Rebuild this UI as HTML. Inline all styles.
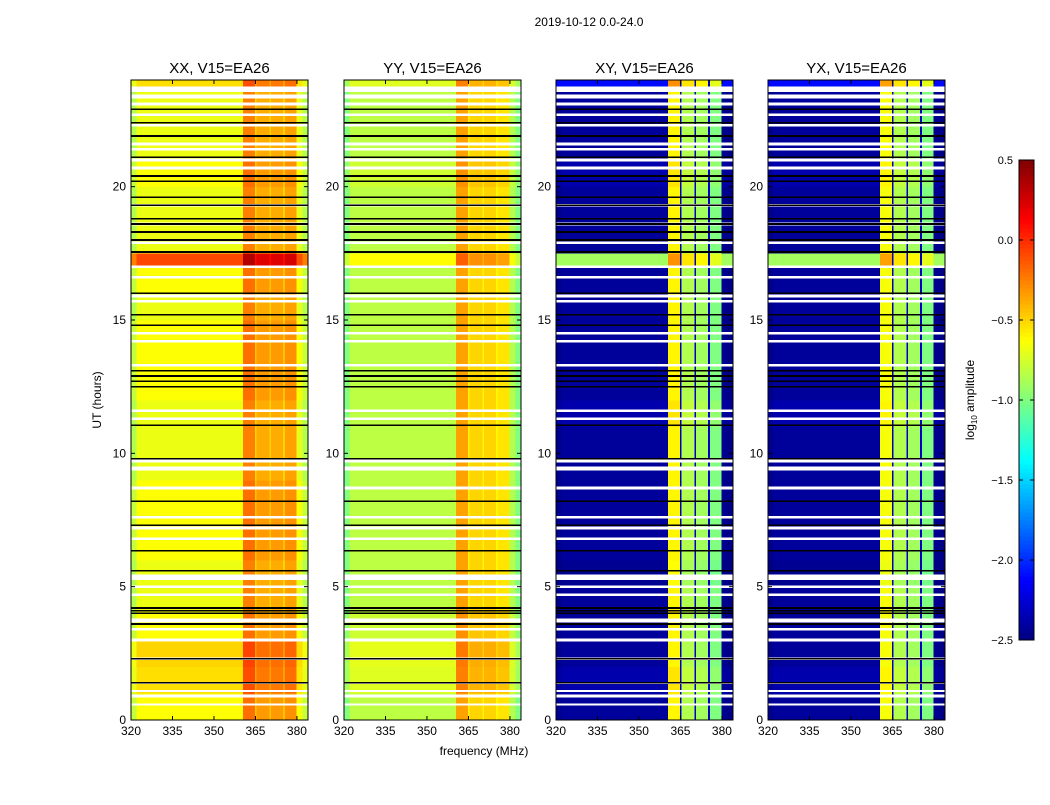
<!DOCTYPE html>
<html><head><meta charset="utf-8"><style>
body{margin:0;background:#fff;font-family:"Liberation Sans",sans-serif;}
svg text{font-family:"Liberation Sans",sans-serif;}
</style></head><body>
<svg id="fig" width="1050" height="800" viewBox="0 0 1050 800">
<text x="589" y="26" font-size="12" text-anchor="middle">2019-10-12 0.0-24.0</text>
<text transform="translate(101,400) rotate(-90)" font-size="12" text-anchor="middle">UT (hours)</text>
<text x="484" y="755" font-size="12" text-anchor="middle">frequency (MHz)</text>
<g id="panels"></g>
<g id="cbar"></g>
</svg>
<script>
// ---- data ----
const panelNames = ["XX, V15=EA26","YY, V15=EA26","XY, V15=EA26","YX, V15=EA26"];
const xTicks = [320,335,350,365,380];
const yTicks = [0,5,10,15,20];
const cbarTicks = [0.5,0.0,-0.5,-1.0,-1.5,-2.0,-2.5];
// frequency bands [start MHz, end MHz]
const bandStarts = [320,322,360.5,364.8,365.3,370,370.7,375,375.7,379.8,382];
const bandEnds   = [322,360.5,364.8,365.3,370,370.7,375,375.7,379.8,382,384];
// log amplitude per band
const bandXX = [-0.85,-0.68,-0.25,-0.5,-0.38,-0.5,-0.38,-0.5,-0.35,-0.7,-0.85];
const bandYY = [-1.0,-0.82,-0.35,-0.6,-0.5,-0.6,-0.5,-0.6,-0.55,-0.85,-1.0];
const bandXY = [-2.45,-2.42,-0.6,-2.3,-0.85,-2.3,-0.9,-2.3,-1.0,-2.45,-2.48];
const bandYX = [-2.45,-2.42,-0.65,-2.3,-0.85,-2.3,-0.9,-2.3,-1.0,-2.45,-2.48];
// hourly row offsets (0..23 h)
const rowXX = [0.05,0.15,0.18,0.05,0,0,0.05,0.05,0.05,0,0,0,0.05,0.05,0.05,0,0.05,0,0,0,0.05,0,0,0];
const rowYY = [0,0.1,0.12,0.05,0,0,0,0,0,0,0,0,0,0,0,0,0,0,0,0,0.05,0,0,0];
const rowXY = [0,0.05,0,0,0,-0.03,0,0,0,0,0,0.05,0,0,0,0,0,0,0,0,0.05,0,0,0];
const rowYX = [0,0.05,0,0,0,-0.03,0,0,0,0,0,0.05,0,0,0,0,0,0,0,0,0.05,0,0,0];
// bright row near 17.3 h and top row
const hotStart = [17.1, 23.75];
const hotEnd   = [17.5, 24.0];
const hotXX = [0.2, -0.25];
const hotYY = [-0.2, -0.3];
const hotXY = [-0.9, -2.1];
const hotYX = [-0.9, -2.1];
// flagged (white) gaps in hours
const gapStart = [0.55,0.85,1.05,1.35,2.25,2.95,3.35,3.65,4.65,4.95,5.25,6.75,7.15,7.55,8.65,9.35,9.65,11.25,11.55,13.25,14.15,14.45,15.65,15.85,16.55,16.95,17.85,18.55,19.25,20.65,20.95,21.35,21.55,22.25,22.65,23.05,23.3,23.55];
const gapEnd   = [0.62,0.95,1.12,1.42,2.35,3.05,3.45,3.8,4.75,5.05,5.45,6.85,7.25,7.65,8.75,9.5,9.8,11.35,11.65,13.35,14.25,14.55,15.75,15.95,16.65,17.05,17.95,18.65,19.35,20.75,21.05,21.45,21.65,22.35,22.75,23.15,23.45,23.75];
// black lines (hours)
const blackLines = [1.4,2.3,3.6,4.0,4.1,4.2,5.6,6.35,7.3,8.2,9.8,11.05,12.5,12.7,12.9,13.1,14.8,15.2,16.0,17.55,18.0,18.3,18.6,18.8,19.3,19.6,20.2,20.4,21.1,21.9,22.4,22.9];

const panelX = [131,344,556,768];
const panelW = 177, panelTop = 80, panelBot = 720;
const fMin = 320, fMax = 384, hMin = 0, hMax = 24;
const bandSets = [bandXX,bandYY,bandXY,bandYX];
const rowSets = [rowXX,rowYY,rowXY,rowYX];
const hotSets = [hotXX,hotYY,hotXY,hotYX];

function jet(v){ // v in [-2.5,0.5]
  let t=(v+2.5)/3; t=Math.max(0,Math.min(1,t));
  const f=x=>Math.max(0,Math.min(1,x));
  const r=f(1.5-Math.abs(4*t-3)), g=f(1.5-Math.abs(4*t-2)), b=f(1.5-Math.abs(4*t-1));
  return `rgb(${Math.round(r*255)},${Math.round(g*255)},${Math.round(b*255)})`;
}
const NS="http://www.w3.org/2000/svg";
function mk(tag,attrs,parent){const e=document.createElementNS(NS,tag);for(const k in attrs)e.setAttribute(k,attrs[k]);parent.appendChild(e);return e;}

const root=document.getElementById('panels');
const STEP=0.25;
panelX.forEach((px,p)=>{
  const xs=f=>px+(f-fMin)/(fMax-fMin)*panelW;
  const ys=h=>panelBot-(h-hMin)/(hMax-hMin)*(panelBot-panelTop);
  const g=mk('g',{},root);
  
  
  const hm=mk('g',{'shape-rendering':'crispEdges'},g);
  
  
  for(let h=0;h<24;h+=STEP){
    let off=rowSets[p][Math.floor(h)];
    let hot=null;
    hotStart.forEach((s,i)=>{ if(h+STEP>s && h<hotEnd[i]) hot=hotSets[p][i]; });
    bandStarts.forEach((s,b)=>{
      let v=bandSets[p][b]+off;
      if(hot!==null){
        if(p<2) v=bandSets[p][b]+hot+0.4;
        else v=(b<=1||b>=9)?hot:(bandSets[p][b]<-2?bandSets[p][b]:bandSets[p][b]+0.3);
      }
      const c=mk('rect',{x:xs(s),y:ys(h+STEP),width:xs(bandEnds[b])-xs(s)+0.3,height:ys(h)-ys(h+STEP)+0.3,fill:jet(v)},hm);
      
      
    });
  }
  gapStart.forEach((s,i)=>{
    const r=mk('rect',{x:px,y:ys(gapEnd[i]),width:panelW,height:ys(s)-ys(gapEnd[i]),fill:'#fff'},hm);
    
    
  });
  blackLines.forEach(h=>{
    const l=mk('rect',{x:px,y:ys(h)-0.8,width:panelW,height:1.6,fill:'#000'},hm);
    
    
  });
  const fr=mk('rect',{x:px,y:panelTop,width:panelW,height:panelBot-panelTop,fill:'none',stroke:'#000','stroke-width':1},g);
  
  
  const t=mk('text',{x:px+panelW/2,y:73,'font-size':15,'text-anchor':'middle'},g);
  t.textContent=panelNames[p];
  
  
  xTicks.forEach(f=>{
    const x=xs(f);
    mk('line',{x1:x,x2:x,y1:panelBot,y2:panelBot-4,stroke:'#000'},g);
    mk('line',{x1:x,x2:x,y1:panelTop,y2:panelTop+4,stroke:'#000'},g);
    const tl=mk('text',{x:x,y:735,'font-size':12,'text-anchor':'middle'},g);
    tl.textContent=f;
    
    
  });
  yTicks.forEach(h=>{
    const y=ys(h);
    mk('line',{x1:px,x2:px+4,y1:y,y2:y,stroke:'#000'},g);
    mk('line',{x1:px+panelW,x2:px+panelW-4,y1:y,y2:y,stroke:'#000'},g);
    const tl=mk('text',{x:px-5,y:y+4,'font-size':12,'text-anchor':'end'},g);
    tl.textContent=h;
    
    
  });
});

// colorbar
const cb=document.getElementById('cbar');
const cbX=1019,cbW=15,cbTop=160,cbBot=640;
for(let i=0;i<120;i++){
  const v=-2.5+3*(i+0.5)/120;
  const y=cbBot-(i+1)*(cbBot-cbTop)/120;
  mk('rect',{x:cbX,y:y,width:cbW,height:(cbBot-cbTop)/120+0.5,fill:jet(v),'shape-rendering':'crispEdges'},cb);
}
mk('rect',{x:cbX,y:cbTop,width:cbW,height:cbBot-cbTop,fill:'none',stroke:'#000'},cb);
cbarTicks.forEach(v=>{
  const y=cbBot-(v+2.5)/3*(cbBot-cbTop);
  mk('line',{x1:cbX,x2:cbX+4,y1:y,y2:y,stroke:'#000'},cb);
  mk('line',{x1:cbX+cbW,x2:cbX+cbW-4,y1:y,y2:y,stroke:'#000'},cb);
  const tl=mk('text',{x:1013,y:y+4,'font-size':11,'text-anchor':'end'},cb);
  tl.textContent=(v<0?'\u2212':'')+Math.abs(v).toFixed(1);
  
  
});
const cl=mk('text',{transform:'translate(974,400) rotate(-90)','font-size':12,'text-anchor':'middle'},cb);
cl.innerHTML='log<tspan font-size="8" dy="3">10</tspan><tspan dy="-3"> amplitude</tspan>';


</script>
</body></html>
